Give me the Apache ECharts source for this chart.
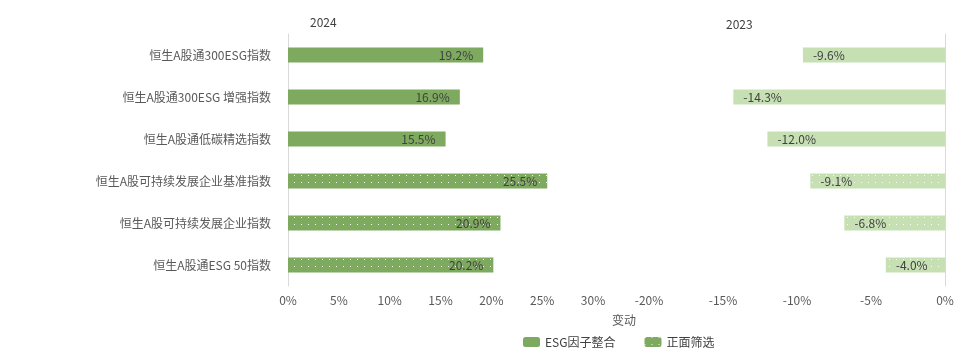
<!DOCTYPE html>
<html><head><meta charset="utf-8">
<script src="https://cdn.jsdelivr.net/npm/echarts@6/dist/echarts.min.js"></script>
<style>html,body{margin:0;padding:0;background:#fff}#c{width:966px;height:357px}</style>
</head><body><div id="c"></div>
<script>
const categories = ['恒生A股通300ESG指数','恒生A股通300ESG 增强指数','恒生A股通低碳精选指数','恒生A股可持续发展企业基准指数','恒生A股可持续发展企业指数','恒生A股通ESG 50指数'];
const group = ['ESG因子整合','ESG因子整合','ESG因子整合','正面筛选','正面筛选','正面筛选'];
const values2024 = [19.2, 16.9, 15.5, 25.5, 20.9, 20.2];
const values2023 = [-9.6, -14.3, -12.0, -9.1, -6.8, -4.0];
const leftTicks = [0, 30, 5];
const rightTicks = [-20, 0, 5];

const DARK = '#7eaa5f', LIGHT = '#c6e0b4';
const FONT = '"Noto Sans CJK SC", "Noto Sans", sans-serif';
function pattern(bg){
  const c = document.createElement('canvas'); c.width = 7; c.height = 7;
  const x = c.getContext('2d'); x.fillStyle = bg; x.fillRect(0,0,7,7);
  x.fillStyle = 'rgba(255,255,255,0.95)'; x.fillRect(0,0,1,1);
  return {image: c, repeat: 'repeat'};
}
function pick(vals, name){ return vals.map((v,i)=> group[i]===name ? v : '-'); }

const chart = echarts.init(document.getElementById('c'));
const axisLabel = {color:'#595959', fontSize:12, fontFamily:FONT};
const barLabelL = {show:true, position:'insideRight', distance:10, color:'#404040', fontSize:12, fontFamily:FONT, formatter:p=>p.value.toFixed(1)+'%'};
const barLabelR = {show:true, position:'insideLeft', distance:10, color:'#404040', fontSize:12, fontFamily:FONT, formatter:p=>p.value.toFixed(1)+'%'};
chart.setOption({
  animation:false,
  textStyle:{fontFamily:FONT},
  title:[
    {text:'2024', left:305, top:11, textStyle:{fontSize:12, fontWeight:'normal', color:'#404040', fontFamily:FONT}},
    {text:'2023', left:721, top:13, textStyle:{fontSize:12, fontWeight:'normal', color:'#404040', fontFamily:FONT}}
  ],
  grid:[
    {left:288, right:373, top:34, bottom:71},
    {left:649, right:21, top:34, bottom:71}
  ],
  xAxis:[
    {gridIndex:0, type:'value', min:leftTicks[0], max:leftTicks[1], interval:leftTicks[2],
     axisLine:{show:false}, axisTick:{show:false}, splitLine:{show:false},
     axisLabel:Object.assign({formatter:'{value}%', margin:8}, axisLabel)},
    {gridIndex:1, type:'value', min:rightTicks[0], max:rightTicks[1], interval:rightTicks[2],
     axisLine:{show:false}, axisTick:{show:false}, splitLine:{show:false},
     axisLabel:Object.assign({formatter:'{value}%', margin:8}, axisLabel)}
  ],
  yAxis:[
    {gridIndex:0, type:'category', data:categories, inverse:true,
     axisLine:{lineStyle:{color:'#d9d9d9'}}, axisTick:{show:false},
     axisLabel:Object.assign({margin:17}, axisLabel)},
    {gridIndex:1, type:'category', data:categories, inverse:true,
     axisLine:{lineStyle:{color:'#d9d9d9'}}, axisTick:{show:false},
     axisLabel:{show:false}}
  ],
  legend:{data:['ESG因子整合','正面筛选'], left:518, top:331, itemWidth:17, itemHeight:10, itemGap:29,
    textStyle:{color:'#404040', fontSize:12, fontFamily:FONT}},
  graphic:[{type:'text', left:612, top:314, style:{text:'变动', fill:'#595959', fontSize:12, fontFamily:FONT}}],
  series:[
    {name:'ESG因子整合', type:'bar', xAxisIndex:0, yAxisIndex:0, barWidth:15, barGap:'-100%',
     data:pick(values2024,'ESG因子整合'), itemStyle:{color:DARK}, label:barLabelL},
    {name:'正面筛选', type:'bar', xAxisIndex:0, yAxisIndex:0, barWidth:15, barGap:'-100%',
     data:pick(values2024,'正面筛选'), itemStyle:{color:pattern(DARK)}, label:barLabelL},
    {name:'ESG因子整合', type:'bar', xAxisIndex:1, yAxisIndex:1, barWidth:15, barGap:'-100%',
     data:pick(values2023,'ESG因子整合'), itemStyle:{color:LIGHT}, label:barLabelR},
    {name:'正面筛选', type:'bar', xAxisIndex:1, yAxisIndex:1, barWidth:15, barGap:'-100%',
     data:pick(values2023,'正面筛选'), itemStyle:{color:pattern(LIGHT)}, label:barLabelR}
  ]
});
</script></body></html>
